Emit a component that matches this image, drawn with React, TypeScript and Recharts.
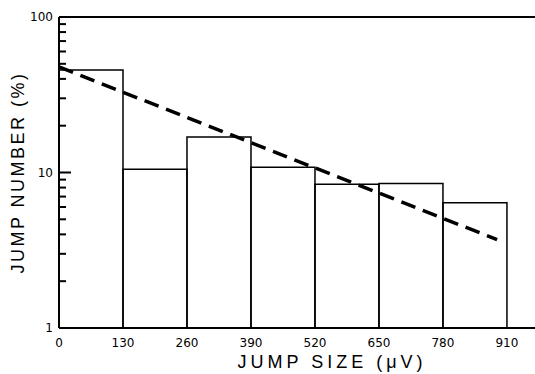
import {
	Bar,
	ComposedChart,
	Line,
	ReferenceLine,
	XAxis,
	YAxis,
} from "recharts";

// histogram bins are 130 µV wide, mid points on the x axis
const binMids = [65, 195, 325, 455, 585, 715, 845];
const jumpPct = [45.6, 10.5, 16.9, 10.8, 8.4, 8.5, 6.4];

// exponential fit, straight on the log axis
const fitX = [0, 890];
const fitPct = [47.7, 3.7];

const xTicks = [0, 130, 260, 390, 520, 650, 780, 910];
const yLabels = [1, 10, 100];
const yAll = [1, 2, 3, 4, 5, 6, 7, 8, 9, 10, 20, 30, 40, 50, 60, 70, 80, 90, 100];

const barData = binMids.map((mid, i) => ({ mid, pct: jumpPct[i] }));
const fitData = fitX.map((mid, i) => ({ mid, fit: fitPct[i] }));

const font = "'DejaVu Sans', sans-serif";

// labels 1, 10, 100 plus short inward tick marks
const renderYTick = (props: any) => {
	const { x, y, payload } = props;
	const v = payload.value;
	const major = yLabels.includes(v);
	return (
		<g key={"t" + v}>
			{v !== 1 && v !== 100 && (
				<rect x={x} y={y - 1} width={major ? 12 : 7} height={2} fill='#000' />
			)}
			{major && (
				<text x={x - 6} y={y} dy={4} textAnchor='end' fontSize={12} fontFamily={font} fill='#000'>
					{v}
				</text>
			)}
		</g>
	);
};

const XTitle = (props: any) => {
	const { viewBox } = props;
	return (
		<text
			x={viewBox.x + viewBox.width / 2 + 35}
			y={viewBox.y + viewBox.height - 6}
			textAnchor='middle'
			fontSize={18}
			letterSpacing={4}
			fontFamily="'Liberation Sans', Arial, sans-serif"
			fill='#000'>
			JUMP SIZE (μV)
		</text>
	);
};

const YTitle = (props: any) => {
	const { viewBox } = props;
	const cx = 18;
	const cy = viewBox.y + viewBox.height / 2;
	return (
		<text
			x={cx}
			y={cy}
			transform={`rotate(-90 ${cx} ${cy})`}
			textAnchor='middle'
			dominantBaseline='central'
			fontSize={18}
			letterSpacing={2.5}
			fontFamily="'Liberation Sans', Arial, sans-serif"
			fill='#000'>
			JUMP NUMBER (%)
		</text>
	);
};

export default function App() {
	return (
		<div style={{ position: "absolute", left: 0, top: 0, background: "#fff" }}>
			<ComposedChart
				width={535}
				height={374}
				data={barData}
				margin={{ top: 17, right: 0, bottom: 0, left: 0 }}
				barCategoryGap={0}
				barGap={0}>
				<XAxis
					dataKey='mid'
					type='number'
					domain={[0, 967]}
					ticks={xTicks}
					interval={0}
					height={46}
					tickLine={false}
					axisLine={{ stroke: "#000", strokeWidth: 2 }}
					tick={{ fill: "#000", fontSize: 12, fontFamily: font }}
					tickMargin={4}
					label={{ content: XTitle }}
				/>
				<XAxis xAxisId='fit' dataKey='mid' type='number' domain={[0, 967]} hide />
				<YAxis
					scale='log'
					type='number'
					domain={[1, 100]}
					ticks={yAll}
					interval={0}
					width={59}
					tickSize={0}
					tickMargin={0}
					tickLine={false}
					axisLine={{ stroke: "#000", strokeWidth: 2 }}
					tick={renderYTick}
					allowDataOverflow
					label={{ content: YTitle }}
				/>
				<ReferenceLine y={100} stroke='#000' strokeWidth={2} />
				<Bar dataKey='pct' fill='none' stroke='#000' strokeWidth={1.5} isAnimationActive={false} />
				<Line
					xAxisId='fit'
					data={fitData}
					dataKey='fit'
					stroke='#000'
					strokeWidth={3.5}
					strokeDasharray='15 8'
					dot={false}
					isAnimationActive={false}
				/>
			</ComposedChart>
		</div>
	);
}
